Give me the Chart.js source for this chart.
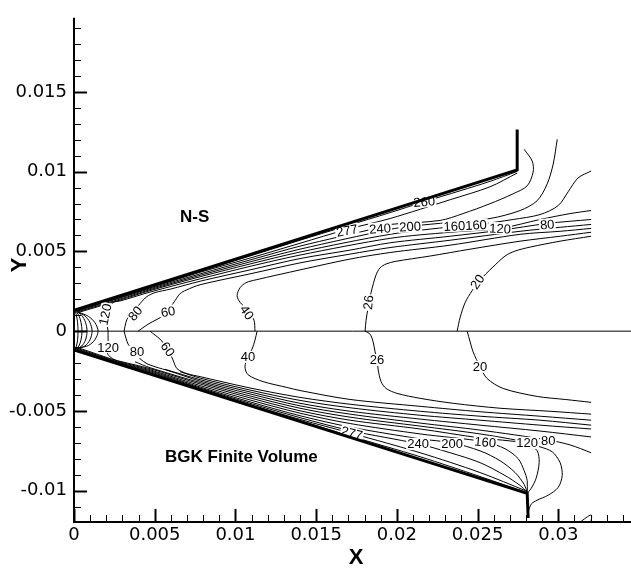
<!DOCTYPE html>
<html lang="en">
<head>
  <meta charset="UTF-8" />
  <title>Temperature contours - N-S vs BGK</title>
  <script src="https://cdn.jsdelivr.net/npm/chart.js"></script>
  <style>
    body { margin: 0; background: #fff; }
    .chart-container { position: relative; width: 631px; height: 570px; }
  </style>
</head>
<body>
  <div class="chart-container">
    <canvas id="contourChart"></canvas>
  </div>

  <script>
    // all coordinates are in mm, the axes print them in m
    const xTickValues = [0, 5, 10, 15, 20, 25, 30];
    const xTickLabels = ['0', '0.005', '0.01', '0.015', '0.02', '0.025', '0.03'];
    const yTickValues = [-10, -5, 0, 5, 10, 15];
    const yTickLabels = ['-0.01', '-0.005', '0', '0.005', '0.01', '0.015'];

    // body outline
    const upperWall = [[0, 1.30], [27.45, 10.10], [27.45, 12.64]];
    const lowerWall = [[0, -1.18], [28.07, -10.16], [28.13, -11.71]];
    const centerLine = [[0, 0], [34.5, 0]];

    // N-S (upper half) contour lines
    const upper20 = [[23.73, 0], [23.92, 0.87], [24.23, 1.80], [24.66, 2.54], [25.16, 3.22], [25.90, 3.97], [26.70, 4.71], [27.32, 5.02], [28.25, 5.27], [30.11, 5.64], [32.03, 5.95]];
    const upper26 = [[18.03, 0], [18.09, 0.68], [18.22, 1.49], [18.40, 2.42], [18.71, 3.53], [18.96, 3.97], [19.33, 4.21], [19.89, 4.37], [22.06, 4.71], [24.54, 5.14], [27.63, 5.64], [30.11, 5.95], [32.03, 6.20]];
    const upper40 = [[11.21, 0], [11.15, 0.68], [10.78, 1.30], [10.29, 1.80], [10.10, 2.23], [10.29, 2.73], [10.66, 3.04], [11.28, 3.22], [14.00, 3.84], [17.10, 4.52], [19.58, 4.93], [23.30, 5.39], [27.63, 6.07], [30.11, 6.26], [32.03, 6.44]];
    const upper60 = [[3.97, 0], [4.58, 0.43], [5.14, 0.74], [5.64, 1.05], [6.26, 1.92], [6.57, 2.35], [6.94, 2.57], [7.81, 2.91], [10.90, 3.59], [14.00, 4.28], [17.10, 4.83], [19.58, 5.24], [23.30, 5.70], [27.63, 6.26], [30.11, 6.51], [32.03, 6.69]];
    const upper80 = [[3.10, 0], [3.22, 0.56], [3.35, 0.87], [3.66, 1.18], [4.09, 1.73], [4.52, 2.17], [5.02, 2.42], [5.95, 2.63], [7.81, 3.13], [10.90, 3.84], [14.00, 4.55], [17.10, 5.08], [19.58, 5.54], [23.30, 5.95], [26.39, 6.32], [29.31, 6.75], [32.03, 7.00]];
    const upper120 = [[2.11, 0], [2.04, 0.56], [2.11, 1.05], [2.23, 1.55], [2.48, 1.83], [2.85, 1.89], [4.71, 2.45], [7.81, 3.28], [10.90, 4.06], [14.00, 4.77], [19.58, 5.82], [23.30, 6.20], [26.39, 6.44], [28.87, 7.00], [30.73, 7.37], [32.03, 7.56]];
    const upper160 = [[0.30, 1.18], [2.85, 1.95], [4.71, 2.54], [7.81, 3.41], [10.90, 4.21], [14.00, 4.96], [19.58, 6.07], [23.61, 6.57], [25.03, 6.69], [27.20, 7.00], [28.87, 7.31], [29.99, 7.87], [30.61, 8.74], [31.22, 9.60], [32.03, 10.04]];
    const upper200 = [[0.22, 1.21], [2.85, 2.01], [4.71, 2.60], [7.81, 3.50], [10.90, 4.34], [14.00, 5.14], [19.58, 6.38], [20.82, 6.57], [23.30, 6.82], [25.77, 7.06], [27.63, 7.56], [28.69, 8.18], [29.31, 9.23], [29.68, 10.47], [29.93, 12.02]];
    const upper240 = [[0.16, 1.24], [2.85, 2.08], [4.71, 2.66], [7.81, 3.59], [10.90, 4.46], [14.00, 5.33], [18.96, 6.51], [19.58, 6.69], [22.68, 6.94], [24.10, 7.37], [25.77, 7.99], [27.20, 8.61], [28.07, 9.11], [28.44, 9.98], [28.38, 10.66], [27.88, 11.40]];
    const upper277 = [[0.10, 1.27], [2.85, 2.11], [4.71, 2.71], [7.81, 3.69], [10.90, 4.58], [14.00, 5.51], [16.91, 6.38], [19.58, 7.06], [23.30, 8.24], [25.77, 9.05], [27.45, 9.91]];
    const upper260 = [[0.06, 1.30], [2.85, 2.17], [4.71, 2.76], [7.81, 3.74], [10.90, 4.71], [14.00, 5.70], [19.58, 7.43], [21.62, 8.09], [23.92, 8.80], [25.77, 9.39], [27.45, 10.01]];

    // stagnation arcs round the nose
    const nose260 = [[0.06, 1.30], [0.15, 0.99], [0.22, 0.56], [0.25, 0], [0.22, -0.56], [0.15, -0.93], [0.06, -1.18]];
    const nose277 = [[0.10, 1.27], [0.30, 0.99], [0.43, 0.56], [0.50, 0], [0.43, -0.56], [0.30, -0.93], [0.10, -1.15]];
    const nose240 = [[0.16, 1.24], [0.48, 0.99], [0.71, 0.56], [0.81, 0], [0.71, -0.56], [0.48, -0.93], [0.16, -1.12]];
    const nose200 = [[0.22, 1.21], [0.67, 0.96], [0.98, 0.56], [1.12, 0], [0.98, -0.56], [0.67, -0.93], [0.22, -1.08]];
    const nose160 = [[0.30, 1.18], [0.89, 0.93], [1.30, 0.53], [1.49, 0], [1.30, -0.53], [0.89, -0.90], [0.30, -1.05]];

    // BGK finite volume (lower half) contour lines
    const lower20 = [[24.35, 0], [24.54, -0.68], [24.72, -1.30], [25.15, -2.23], [25.59, -2.97], [26.58, -3.59], [28.69, -4.09], [30.42, -4.28], [32.03, -4.46]];
    const lower26 = [[18.03, 0], [18.34, -0.19], [18.53, -0.68], [18.65, -1.30], [18.77, -1.80], [18.84, -2.42], [19.02, -3.16], [19.33, -3.59], [20.01, -3.90], [21.44, -4.21], [23.48, -4.52], [26.39, -4.83], [29.49, -5.02], [32.03, -5.20]];
    const lower40 = [[11.34, 0], [11.21, -0.56], [11.03, -1.12], [10.78, -1.61], [10.59, -2.23], [10.78, -2.73], [11.71, -3.16], [13.20, -3.53], [14.00, -3.72], [17.10, -4.28], [21.44, -4.71], [25.15, -5.05], [28.87, -5.33], [32.03, -5.58]];
    const lower60 = [[4.71, 0], [5.33, -0.50], [5.64, -0.87], [5.82, -1.12], [6.13, -1.80], [6.38, -2.35], [7.00, -2.66], [7.81, -2.85], [10.90, -3.56], [14.00, -4.15], [17.10, -4.58], [21.44, -5.02], [25.15, -5.33], [28.87, -5.58], [32.03, -5.89]];
    const lowerFanA = [[6.57, -2.54], [7.81, -2.94], [10.90, -3.69], [14.00, -4.34], [17.10, -4.80], [21.44, -5.27], [25.15, -5.58], [28.87, -5.89], [32.03, -6.13]];
    const lowerFanB = [[5.64, -2.39], [7.81, -3.04], [10.90, -3.81], [14.00, -4.52], [17.10, -5.02], [21.44, -5.51], [25.15, -5.89], [28.87, -6.26], [32.03, -6.63]];
    const lower80 = [[3.10, 0], [3.22, -0.43], [3.35, -0.81], [3.66, -1.18], [3.90, -1.49], [4.09, -1.73], [4.52, -2.04], [5.02, -2.23], [5.95, -2.51], [7.81, -3.13], [10.90, -3.93], [14.00, -4.68], [17.10, -5.20], [21.44, -5.76], [25.15, -6.20], [29.37, -6.82], [30.73, -7.13], [32.03, -7.62]];
    const lowerLoop = [[3.78, -1.92], [4.71, -2.29], [7.81, -3.22], [10.90, -4.06], [14.00, -4.83], [17.10, -5.39], [21.44, -5.95], [25.15, -6.44], [27.63, -6.88], [28.87, -7.25], [29.62, -7.56], [30.11, -8.24], [30.24, -9.05], [29.99, -9.79], [29.37, -10.28], [28.69, -10.59], [28.32, -10.84], [28.13, -11.34]];
    const lower120 = [[2.11, 0], [2.11, -0.43], [2.11, -0.81], [2.04, -1.30], [2.23, -1.61], [2.54, -1.80], [2.85, -1.89], [4.71, -2.35], [7.81, -3.31], [10.90, -4.18], [14.00, -4.99], [17.10, -5.58], [21.44, -6.13], [25.15, -6.69], [27.01, -6.88], [28.07, -7.06], [28.69, -7.50], [28.81, -8.24], [28.62, -9.23], [28.32, -9.85], [28.07, -10.16]];
    const lower160 = [[0.30, -1.05], [2.85, -1.92], [4.71, -2.42], [7.81, -3.41], [10.90, -4.31], [14.00, -5.14], [17.10, -5.79], [21.44, -6.44], [25.47, -6.94], [26.70, -7.37], [27.51, -7.99], [27.88, -8.74], [28.07, -9.36], [28.07, -10.10]];
    const lower200 = [[0.22, -1.08], [2.85, -1.97], [4.71, -2.48], [7.81, -3.50], [10.90, -4.43], [14.00, -5.30], [17.10, -6.01], [21.44, -6.75], [23.42, -7.00], [25.15, -7.50], [26.39, -8.12], [27.32, -8.86], [27.88, -9.60], [28.07, -10.10]];
    const lower240 = [[0.16, -1.12], [2.85, -2.01], [4.71, -2.54], [7.81, -3.56], [10.90, -4.52], [14.00, -5.42], [17.10, -6.23], [21.31, -7.06], [23.30, -7.62], [25.15, -8.24], [26.70, -9.05], [27.63, -9.67], [28.07, -10.10]];
    const lower277 = [[0.10, -1.15], [2.85, -2.04], [4.71, -2.60], [7.81, -3.61], [10.90, -4.60], [14.00, -5.53], [17.22, -6.41], [21.44, -7.62], [25.15, -8.86], [28.07, -10.04]];
    const lower260 = [[0.06, -1.18], [2.85, -2.07], [4.71, -2.65], [7.81, -3.64], [10.90, -4.65], [14.00, -5.61], [17.10, -6.57], [21.44, -7.87], [25.15, -9.11], [28.07, -10.13]];
    const lowerCorner = [[31.35, -11.96], [32.03, -11.52], [32.03, -11.96]];

    // contour labels: text, x, y, rotation (deg)
    const contourLabels = [
      ['120', 1.92, 1.05, -78], ['80', 3.78, 1.12, -50], ['60', 5.82, 1.24, -10],
      ['40', 10.72, 1.18, 55], ['26', 18.22, 1.80, -85], ['20', 24.97, 3.10, -55],
      ['277', 16.91, 6.32, -10], ['240', 18.96, 6.44, -4], ['200', 20.82, 6.57, -3],
      ['160160', 24.23, 6.63, -3], ['120', 26.39, 6.44, 3], ['80', 29.31, 6.69, -5],
      ['260', 21.69, 8.12, -5],
      ['120', 2.11, -0.99, 0], ['80', 3.90, -1.30, 0], ['60', 5.82, -1.12, 55],
      ['40', 10.78, -1.61, 0], ['26', 18.77, -1.80, 0], ['20', 25.15, -2.23, 0],
      ['277', 17.22, -6.38, 15], ['240', 21.31, -7.06, 0], ['200', 23.42, -7.06, 0],
      ['160', 25.47, -6.94, 5], ['120', 28.07, -7.00, 0], ['80', 29.37, -6.82, 0]
    ];

    const contourLines = [
      upper20, upper26, upper40, upper60, upper80, upper120, upper160, upper200, upper240, upper277, upper260,
      nose260, nose277, nose240, nose200, nose160,
      lower20, lower26, lower40, lower60, lowerFanA, lowerFanB, lower80, lowerLoop,
      lower120, lower160, lower200, lower240, lower277, lower260, lowerCorner
    ];

    const labelFont = '13px "Liberation Sans", Arial, sans-serif';
    const boldFont = (size) => `bold ${size}px "Liberation Sans", Arial, sans-serif`;

    const toPoints = (arr) => arr.map(p => ({ x: p[0], y: p[1] }));

    const datasets = contourLines.map(line => ({
      data: toPoints(line),
      borderColor: '#000',
      borderWidth: 1,
      tension: 0.3,
      pointRadius: 0,
      order: 0
    }));
    datasets.push({ data: toPoints(centerLine), borderColor: '#000', borderWidth: 1, pointRadius: 0, order: 0 });
    [upperWall, lowerWall].forEach(w => datasets.push({
      data: toPoints(w), borderColor: '#000', borderWidth: 3, pointRadius: 0,
      tension: 0, order: -1, isWall: true, borderJoinStyle: 'miter'
    }));

    function drawLabels(chart) {
      const { ctx, scales: { x, y } } = chart;
      ctx.save();
      ctx.font = labelFont;
      ctx.textAlign = 'center';
      ctx.textBaseline = 'middle';
      contourLabels.forEach(([text, lx, ly, rot]) => {
        const w = ctx.measureText(text).width;
        ctx.save();
        ctx.translate(x.getPixelForValue(lx), y.getPixelForValue(ly));
        ctx.rotate(rot * Math.PI / 180);
        ctx.fillStyle = '#fff';
        ctx.fillRect(-w / 2 - 1, -6, w + 2, 12);
        ctx.fillStyle = '#000';
        ctx.fillText(text, 0, 1);
        ctx.restore();
      });

      ctx.font = boldFont(17);
      ctx.fillText('N-S', x.getPixelForValue(7.47), y.getPixelForValue(7.13));
      ctx.textAlign = 'left';
      ctx.fillText('BGK Finite Volume', x.getPixelForValue(5.64), y.getPixelForValue(-7.93));
      ctx.restore();
    }

    function drawAxes(chart) {
      const { ctx, chartArea: { left, right, top, bottom }, scales: { x, y } } = chart;
      ctx.save();
      ctx.strokeStyle = '#000';
      ctx.lineWidth = 2;
      ctx.beginPath();
      ctx.moveTo(left, top);
      ctx.lineTo(left, bottom + 1);
      ctx.moveTo(left - 1, bottom);
      ctx.lineTo(right, bottom);
      ctx.stroke();

      // inward ticks, minor every 0.001
      for (let v = 0; v <= 34; v++) {
        const px = Math.round(x.getPixelForValue(v)) + 0.5;
        const major = v % 5 === 0;
        ctx.lineWidth = major ? 2 : 1;
        ctx.beginPath();
        ctx.moveTo(px, bottom);
        ctx.lineTo(px, bottom - (major ? 13 : 7));
        ctx.stroke();
      }
      for (let v = -11; v <= 19; v++) {
        const py = Math.round(y.getPixelForValue(v)) + 0.5;
        const major = v % 5 === 0;
        ctx.lineWidth = major ? 2 : 1;
        ctx.beginPath();
        ctx.moveTo(left, py);
        ctx.lineTo(left + (major ? 13 : 7), py);
        ctx.stroke();
      }

      ctx.fillStyle = '#000';
      ctx.font = boldFont(22);
      ctx.textAlign = 'center';
      ctx.textBaseline = 'middle';
      ctx.fillText('X', x.getPixelForValue(17.47), bottom + 36);
      ctx.translate(20, y.getPixelForValue(4.15));
      ctx.rotate(-Math.PI / 2);
      ctx.fillText('Y', 0, 0);
      ctx.restore();
    }

    const contourDecor = {
      id: 'contourDecor',
      beforeDraw(chart) { chart.$labelsDone = false; },
      beforeDatasetDraw(chart, args) {
        if (chart.$labelsDone || !chart.data.datasets[args.index].isWall) return;
        chart.$labelsDone = true;
        drawLabels(chart);
      },
      afterDraw(chart) { drawAxes(chart); }
    };

    const tickFont = { family: 'DejaVu Sans', size: 18 };

    new Chart(document.getElementById('contourChart'), {
      type: 'scatter',
      data: { datasets },
      options: {
        responsive: true,
        maintainAspectRatio: false,
        animation: false,
        events: [],
        showLine: true,
        layout: { padding: { top: 12, left: 0, right: 0, bottom: 0 } },
        plugins: { legend: { display: false }, tooltip: { enabled: false } },
        scales: {
          x: {
            type: 'linear', min: 0, max: 34.5,
            grid: { display: false, drawTicks: false }, border: { display: false },
            afterBuildTicks: s => { s.ticks = xTickValues.map(v => ({ value: v })); },
            afterFit: s => { s.height = 48; },
            ticks: {
              autoSkip: false, maxRotation: 0, padding: 3, color: '#000', font: tickFont,
              callback: v => xTickLabels[xTickValues.indexOf(v)]
            }
          },
          y: {
            type: 'linear', min: -11.96, max: 19.64,
            grid: { display: false, drawTicks: false }, border: { display: false },
            afterBuildTicks: s => { s.ticks = yTickValues.map(v => ({ value: v })); },
            afterFit: s => { s.width = 74; },
            ticks: {
              autoSkip: false, padding: 7, color: '#000', font: tickFont,
              callback: v => yTickLabels[yTickValues.indexOf(v)]
            }
          }
        }
      },
      plugins: [contourDecor]
    });
  </script>
</body>
</html>
